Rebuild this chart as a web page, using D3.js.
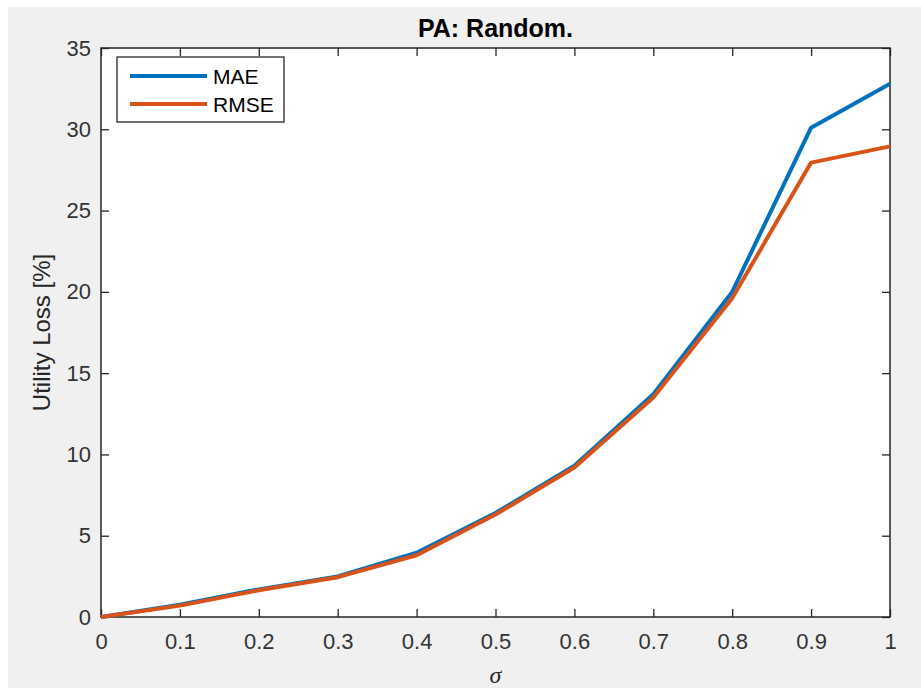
<!DOCTYPE html>
<html>
<head>
<meta charset="utf-8">
<script src="https://cdn.jsdelivr.net/npm/d3@7"></script>
<style>
    body { margin: 0; background: #ffffff; }
    svg text { font-family: "Liberation Sans", Arial, sans-serif; fill: #262626; }
</style>
</head>
<body>
<div id="chart"></div>
<script>

// Data.
const sigmas = [0, 0.1, 0.2, 0.3, 0.4, 0.5, 0.6, 0.7, 0.8, 0.9, 1];
const maeValues  = [0, 0.75, 1.7, 2.5, 3.95, 6.4, 9.3, 13.7, 20.0, 30.1, 32.8];
const rmseValues = [0, 0.7, 1.65, 2.45, 3.8, 6.3, 9.2, 13.5, 19.6, 27.95, 28.95];
const xTicks = [0, 0.1, 0.2, 0.3, 0.4, 0.5, 0.6, 0.7, 0.8, 0.9, 1];
const yTicks = [0, 5, 10, 15, 20, 25, 30, 35];
const seriesNames = ["MAE", "RMSE"];
const seriesColors = ["#0072bd", "#d95319"];

const width = 921, height = 688;
const margin = {top: 48, right: 31, bottom: 71, left: 101};
const xwidth = width - margin.left - margin.right;
const yheight = height - margin.top - margin.bottom;

const svg = d3.select("#chart")
    .append("svg")
        .attr("width", width)
        .attr("height", height);

// Figure background (MATLAB grey).
svg.append("rect")
    .attr("x", 8).attr("y", 7)
    .attr("width", width - 8).attr("height", height - 7)
    .attr("fill", "#f0f0f0");

const g = svg.append("g")
    .attr("transform", "translate(" + margin.left + "," + margin.top + ")");

// Scales
const x = d3.scaleLinear().domain([0, 1]).range([0, xwidth]);
const y = d3.scaleLinear().domain([0, 35]).range([yheight, 0]);

// Axes area
g.append("rect")
    .attr("width", xwidth).attr("height", yheight)
    .attr("fill", "#ffffff");

// Ticks pointing inward on all four sides
const tickLen = 8;
const axisStyle = sel => {
    sel.select(".domain").remove();
    sel.selectAll(".tick line").attr("stroke", "#262626").attr("stroke-width", 1.3);
    sel.selectAll(".tick text")
        .style("font-size", "22px")
        .style("fill", "#333333");
};

g.append("g")
    .attr("transform", "translate(0," + yheight + ")")
    .call(d3.axisBottom(x).tickValues(xTicks).tickSize(-tickLen).tickPadding(16)
        .tickFormat(d => d3.format("")(d)))
    .call(axisStyle);

g.append("g")
    .call(d3.axisTop(x).tickValues(xTicks).tickSize(-tickLen).tickFormat(""))
    .call(axisStyle);

g.append("g")
    .call(d3.axisLeft(y).tickValues(yTicks).tickSize(-tickLen).tickPadding(10))
    .call(axisStyle);

g.append("g")
    .attr("transform", "translate(" + xwidth + ",0)")
    .call(d3.axisRight(y).tickValues(yTicks).tickSize(-tickLen).tickFormat(""))
    .call(axisStyle);

// Box
g.append("rect")
    .attr("width", xwidth).attr("height", yheight)
    .attr("fill", "none")
    .attr("stroke", "#262626")
    .attr("stroke-width", 1.5);

// Lines
const valueline = d3.line()
    .x((d, i) => x(sigmas[i]))
    .y(d => y(d));

[maeValues, rmseValues].forEach((vals, k) => {
    g.append("path")
        .attr("d", valueline(vals))
        .attr("fill", "none")
        .attr("stroke", seriesColors[k])
        .attr("stroke-width", 4)
        .attr("stroke-linejoin", "round");
});

// Title
svg.append("text")
    .attr("x", margin.left + xwidth / 2)
    .attr("y", 37)
    .attr("text-anchor", "middle")
    .style("font-size", "25px")
    .style("font-weight", "bold")
    .style("fill", "#000000")
    .text("PA: Random.");

// Axis labels
svg.append("text")
    .attr("transform", "translate(50," + (margin.top + yheight / 2) + ") rotate(-90)")
    .attr("text-anchor", "middle")
    .style("font-size", "24px")
    .text("Utility Loss [%]");

svg.append("text")
    .attr("x", margin.left + xwidth / 2)
    .attr("y", 683)
    .attr("text-anchor", "middle")
    .style("font-family", "'Liberation Serif', 'Times New Roman', serif")
    .style("font-style", "italic")
    .style("font-size", "24px")
    .text("\u03c3");

// Legend
const legend = svg.append("g").attr("transform", "translate(117,57)");
legend.append("rect")
    .attr("width", 167).attr("height", 65)
    .attr("fill", "#ffffff")
    .attr("stroke", "#262626")
    .attr("stroke-width", 1.3);

seriesNames.forEach((name, k) => {
    const ly = 19 + k * 28;
    legend.append("line")
        .attr("x1", 13).attr("x2", 90)
        .attr("y1", ly).attr("y2", ly)
        .attr("stroke", seriesColors[k])
        .attr("stroke-width", 4);
    legend.append("text")
        .attr("x", 96).attr("y", ly)
        .attr("dy", "0.36em")
        .style("font-size", "21px")
        .style("fill", "#000000")
        .text(name);
});

</script>
</body>
</html>
